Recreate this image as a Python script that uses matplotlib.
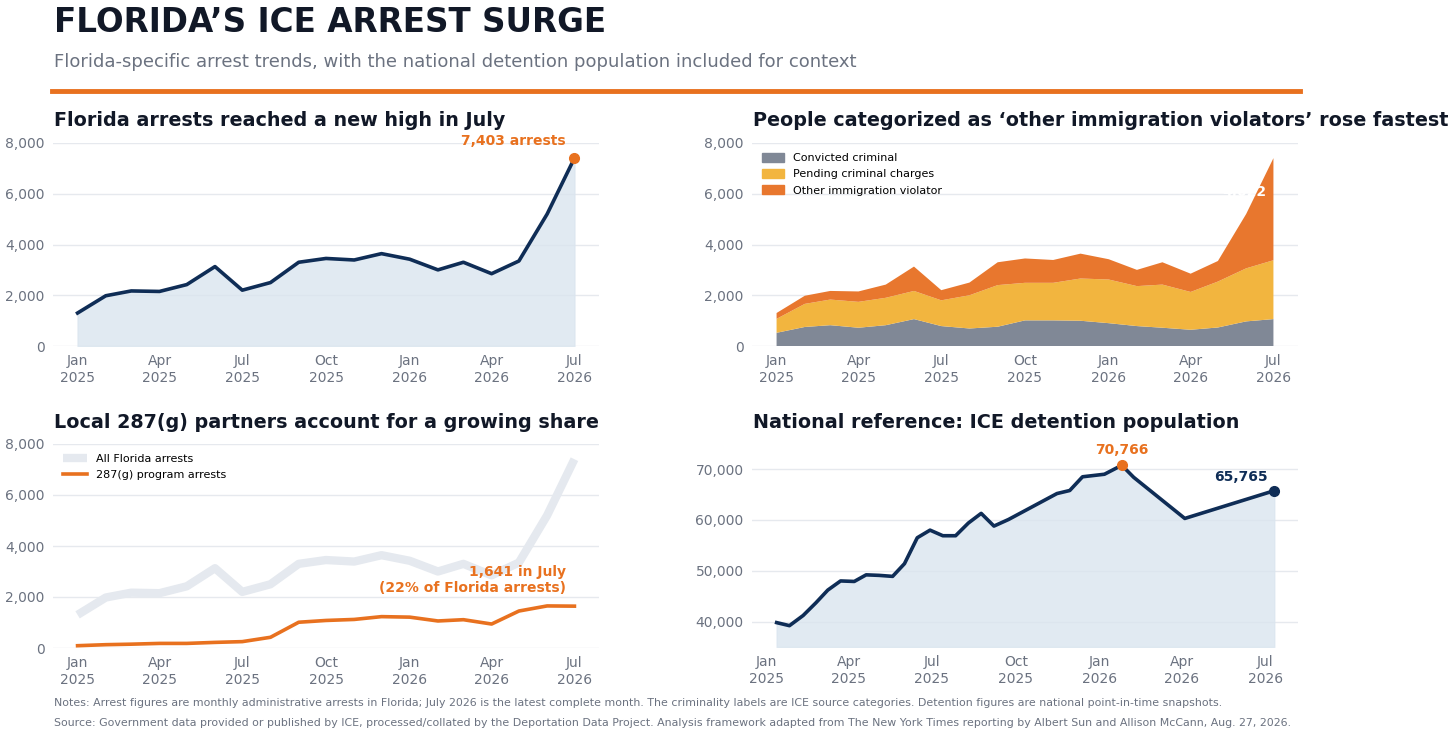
import numpy as np
import pandas as pd
import matplotlib.pyplot as plt
import matplotlib.dates as mdates
from matplotlib.patches import Patch
from matplotlib.lines import Line2D

# monthly Florida data, Jan 2025 - Jul 2026
months = pd.date_range("2025-01-01", periods=19, freq="MS")
fl_arrests = [1300, 1980, 2170, 2150, 2420, 3130, 2200, 2500, 3300, 3450,
              3390, 3640, 3420, 3000, 3300, 2850, 3350, 5200, 7403]
convicted = [520, 750, 820, 720, 820, 1060, 785, 690, 760, 1010,
             1010, 995, 900, 785, 720, 640, 730, 970, 1060]
pending = [550, 910, 1010, 1020, 1080, 1110, 1015, 1310, 1640, 1480,
           1480, 1665, 1720, 1575, 1700, 1490, 1810, 2090, 2320]
other = [230, 320, 340, 410, 520, 960, 400, 500, 900, 960,
         900, 980, 800, 640, 880, 720, 810, 2140, 4023]
arrests_287g = [90, 130, 150, 180, 180, 220, 250, 420, 1010, 1080,
                1120, 1230, 1210, 1060, 1110, 940, 1450, 1650, 1641]

# national detention snapshots
det_dates = pd.to_datetime([
    "2025-01-12", "2025-01-26", "2025-02-10", "2025-02-24", "2025-03-09",
    "2025-03-23", "2025-04-07", "2025-04-20", "2025-05-04", "2025-05-19",
    "2025-06-01", "2025-06-15", "2025-06-29", "2025-07-13", "2025-07-27",
    "2025-08-10", "2025-08-24", "2025-09-07", "2025-09-23", "2025-11-15",
    "2025-11-29", "2025-12-13", "2026-01-06", "2026-01-25", "2026-02-07",
    "2026-04-04", "2026-07-11"])
detention = [39800, 39200, 41200, 43700, 46200, 48000, 47900, 49200, 49100, 48900,
             51400, 56500, 58000, 56900, 56900, 59400, 61300, 58800, 60100, 65200,
             65800, 68500, 69000, 70766, 68400, 60300, 65765]

NAVY = "#0f2d56"
ORANGE = "#e8711f"
FILL = "#dae5ef"
GRID = "#e6e9ee"
TICK = "#6b7280"
DARK = "#111827"

fig = plt.figure(figsize=(14.56, 7.39), dpi=100)
fig.patch.set_facecolor("white")

fig.text(54 / 1456, 1 - 22 / 739, "FLORIDA’S ICE ARREST SURGE", fontsize=23.5,
         fontweight="bold", color=DARK, va="center")
fig.text(54 / 1456, 1 - 62 / 739,
         "Florida-specific arrest trends, with the national detention population included for context",
         fontsize=13, color=TICK, va="center")
fig.add_artist(Line2D([52 / 1456, 1300 / 1456], [1 - 91 / 739] * 2, color=ORANGE, lw=3.5))

fig.text(54 / 1456, 1 - 703 / 739,
         "Notes: Arrest figures are monthly administrative arrests in Florida; July 2026 is the latest complete month. "
         "The criminality labels are ICE source categories. Detention figures are national point-in-time snapshots.",
         fontsize=7.9, color=TICK, va="center")
fig.text(54 / 1456, 1 - 723 / 739,
         "Source: Government data provided or published by ICE, processed/collated by the Deportation Data Project. "
         "Analysis framework adapted from The New York Times reporting by Albert Sun and Allison McCann, Aug. 27, 2026.",
         fontsize=7.9, color=TICK, va="center")


def px_axes(left, right, top, bottom):
    return fig.add_axes([left / 1456, 1 - bottom / 739, (right - left) / 1456, (bottom - top) / 739])


def style(ax, title, tx, ty):
    for s in ax.spines.values():
        s.set_visible(False)
    ax.grid(axis="y", color=GRID, lw=1)
    ax.set_axisbelow(True)
    ax.tick_params(length=0, labelsize=10, colors=TICK, pad=6)
    ax.xaxis.set_major_locator(mdates.MonthLocator(bymonth=[1, 4, 7, 10]))
    ax.xaxis.set_major_formatter(mdates.DateFormatter("%b\n%Y"))
    ax.yaxis.set_major_formatter(plt.FuncFormatter(lambda v, p: f"{v:,.0f}"))
    fig.text(tx / 1456, 1 - ty / 739, title, fontsize=13.8, fontweight="bold",
             color=DARK, va="center")


# top-left
ax1 = px_axes(53, 599, 143, 346)
ax1.fill_between(months, fl_arrests, 0, color=FILL, alpha=0.8)
ax1.plot(months, fl_arrests, color=NAVY, lw=2.6)
ax1.plot(months[-1], fl_arrests[-1], "o", color=ORANGE, ms=7)
ax1.annotate(f"{fl_arrests[-1]:,} arrests", (months[-1], fl_arrests[-1]), xytext=(-6, 12),
             textcoords="offset points", ha="right", va="center", color=ORANGE,
             fontsize=10, fontweight="bold")
ax1.set_ylim(0, 8000)
ax1.set_yticks([0, 2000, 4000, 6000, 8000])
style(ax1, "Florida arrests reached a new high in July", 54, 121)

# top-right
ax2 = px_axes(752, 1298, 143, 346)
ax2.stackplot(months, convicted, pending, other,
              colors=["#808896", "#f2b53f", "#e8772e"], lw=0)
ax2.annotate(f"{other[-1] - 1:,}", (months[-1], 6050), xytext=(-5, 0), textcoords="offset points",
             ha="right", va="center", color="white", fontsize=10, fontweight="bold")
ax2.set_ylim(0, 8000)
ax2.set_yticks([0, 2000, 4000, 6000, 8000])
ax2.legend(handles=[Patch(color="#808896", label="Convicted criminal"),
                    Patch(color="#f2b53f", label="Pending criminal charges"),
                    Patch(color="#e8772e", label="Other immigration violator")],
           loc="upper left", frameon=False, fontsize=8, handlelength=2, handleheight=0.8,
           labelspacing=0.55, bbox_to_anchor=(0.0, 1.0))
style(ax2, "People categorized as ‘other immigration violators’ rose fastest", 753, 121)

# bottom-left
ax3 = px_axes(53, 599, 444, 648)
ax3.plot(months, fl_arrests, color="#e5e9ef", lw=6, label="All Florida arrests",
         solid_capstyle="butt")
ax3.plot(months, arrests_287g, color=ORANGE, lw=2.6, label="287(g) program arrests")
share = arrests_287g[-1] / fl_arrests[-1]
ax3.annotate(f"{arrests_287g[-1]:,} in July\n({share:.0%} of Florida arrests)",
             (months[-1], arrests_287g[-1]), xytext=(-6, 19), textcoords="offset points",
             ha="right", va="center", multialignment="right", color=ORANGE,
             fontsize=10, fontweight="bold")
ax3.set_ylim(0, 8000)
ax3.set_yticks([0, 2000, 4000, 6000, 8000])
ax3.legend(loc="upper left", frameon=False, fontsize=8, handlelength=2.2,
           bbox_to_anchor=(0.0, 1.0))
style(ax3, "Local 287(g) partners account for a growing share", 54, 422)

# bottom-right
ax4 = px_axes(752, 1298, 459, 647)
ax4.fill_between(det_dates, detention, 35000, color=FILL, alpha=0.8)
ax4.plot(det_dates, detention, color=NAVY, lw=2.6)
ipk = int(np.argmax(detention))
ax4.plot(det_dates[ipk], detention[ipk], "o", color=ORANGE, ms=7)
ax4.plot(det_dates[-1], detention[-1], "o", color=NAVY, ms=7)
ax4.annotate(f"{detention[ipk]:,}", (det_dates[ipk], detention[ipk]), xytext=(0, 11),
             textcoords="offset points", ha="center", va="center", color=ORANGE,
             fontsize=10, fontweight="bold")
ax4.annotate(f"{detention[-1]:,}", (det_dates[-1], detention[-1]), xytext=(-5, 10),
             textcoords="offset points", ha="right", va="center", color=NAVY,
             fontsize=10, fontweight="bold")
ax4.set_xlim(pd.Timestamp("2024-12-16"), pd.Timestamp("2026-08-06"))
ax4.set_ylim(35000, 72000)
ax4.set_yticks([40000, 50000, 60000, 70000])
style(ax4, "National reference: ICE detention population", 753, 422)

for ax in (ax1, ax2, ax3):
    ax.set_xlim(months[0] - pd.Timedelta(days=27), months[-1] + pd.Timedelta(days=27))

fig.savefig("out.png", dpi=100, facecolor="white")
